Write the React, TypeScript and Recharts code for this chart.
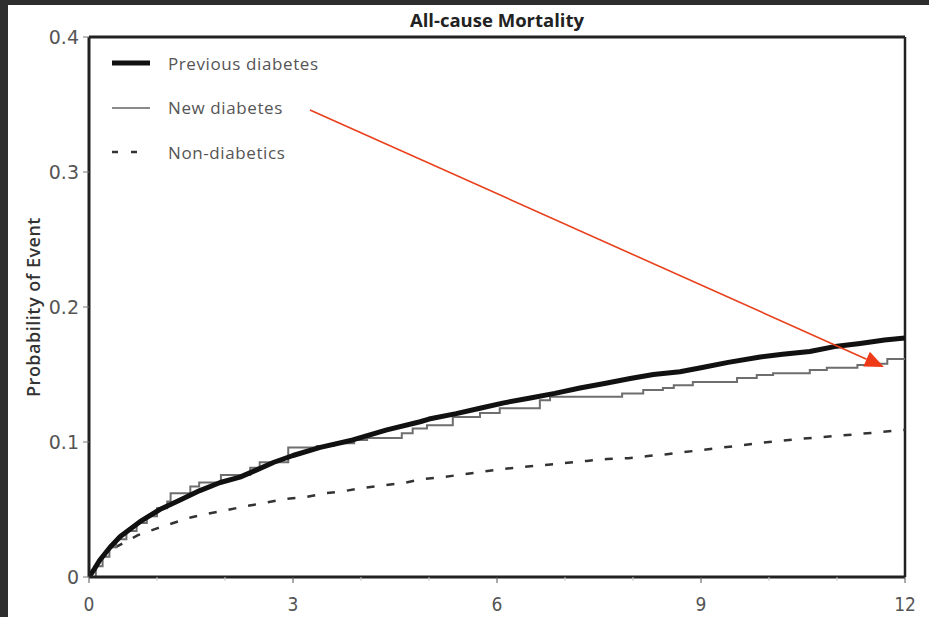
import React from 'react';
import { LineChart, Line, XAxis, YAxis, ReferenceLine, Legend } from 'recharts';

// ---------- data ----------
const prevTimes = [0, 0.08, 0.16, 0.31, 0.46, 0.75, 1.04, 1.34, 1.63, 1.93, 2.22, 2.45, 2.72, 3.0, 3.4, 3.88, 4.38, 4.87, 5.0, 5.4, 5.75, 6.1, 6.49, 6.85, 7.22, 7.6, 7.96, 8.3, 8.69, 9.0, 9.4, 9.87, 10.2, 10.6, 11.0, 11.34, 11.7, 12];
const prevValues = [0, 0.006, 0.0126, 0.022, 0.03, 0.041, 0.05, 0.057, 0.064, 0.07, 0.074, 0.079, 0.085, 0.09, 0.096, 0.1015, 0.109, 0.115, 0.117, 0.121, 0.125, 0.129, 0.1326, 0.136, 0.14, 0.1435, 0.147, 0.15, 0.152, 0.155, 0.159, 0.163, 0.165, 0.167, 0.171, 0.173, 0.1755, 0.177];

const newTimes = [0, 0.1, 0.2, 0.3, 0.4, 0.55, 0.7, 0.85, 1.0, 1.15, 1.2, 1.49, 1.62, 1.94, 2.37, 2.51, 2.93, 3.35, 3.6, 3.9, 4.09, 4.6, 4.76, 4.97, 5.35, 5.75, 6.04, 6.63, 6.78, 7.84, 8.15, 8.44, 8.6, 8.88, 9.53, 9.82, 10.06, 10.6, 10.85, 11.3, 11.53, 11.74, 12];
const newValues = [0, 0.008, 0.015, 0.022, 0.028, 0.034, 0.04, 0.045, 0.051, 0.056, 0.062, 0.067, 0.07, 0.0755, 0.081, 0.085, 0.096, 0.097, 0.099, 0.1015, 0.103, 0.1065, 0.11, 0.1125, 0.1185, 0.1215, 0.125, 0.131, 0.1335, 0.136, 0.1385, 0.14, 0.142, 0.1445, 0.1474, 0.1496, 0.151, 0.1533, 0.155, 0.157, 0.158, 0.1615, 0.1615];

const nonTimes = [0, 0.1, 0.2, 0.35, 0.5, 0.72, 1.0, 1.24, 1.51, 1.75, 2.03, 2.32, 2.59, 2.88, 3.2, 3.47, 3.76, 4.03, 4.35, 4.62, 4.91, 5.2, 5.5, 5.79, 6.09, 6.38, 6.71, 7.0, 7.32, 7.62, 7.93, 8.22, 8.5, 9.0, 9.5, 10.0, 10.5, 11.0, 11.5, 12];
const nonValues = [0, 0.008, 0.014, 0.021, 0.025, 0.031, 0.036, 0.04, 0.0443, 0.047, 0.0496, 0.0526, 0.055, 0.0578, 0.0593, 0.062, 0.0637, 0.066, 0.068, 0.0696, 0.0726, 0.074, 0.076, 0.078, 0.08, 0.0815, 0.083, 0.0845, 0.086, 0.0874, 0.088, 0.0896, 0.091, 0.094, 0.097, 0.1, 0.1025, 0.1045, 0.1067, 0.109];

const xTicks = [0, 1, 2, 3, 4, 5, 6, 7, 8, 9, 10, 11, 12];
const xLabelTicks = [0, 3, 6, 9, 12];
const yTicks = [0, 0.1, 0.2, 0.3, 0.4];
const xMax = 12;
const yMax = 0.4;

const seriesNames = ['Previous diabetes', 'New diabetes', 'Non-diabetics'];
const chartTitle = 'All-cause Mortality';
const yAxisTitle = 'Probability of Event';

// annotation arrow (data coordinates)
const arrowStart = { x: 3.25, y: 0.346 };
const arrowEnd = { x: 11.69, y: 0.1556 };

const zip = (ts: number[], vs: number[]) => ts.map((t, i) => ({ t, v: vs[i] }));
const prevData = zip(prevTimes, prevValues);
const newData = zip(newTimes, newValues);
const nonData = zip(nonTimes, nonValues);

const W = 929;
const H = 617;

const XTick = (props: any) => {
  const { x, y, payload } = props;
  const v = payload.value;
  const major = xLabelTicks.includes(v);
  return (
    <g>
      <line x1={x} x2={x} y1={y} y2={y + (major ? 6 : 4)} stroke={major ? '#555' : '#c8c8c8'} strokeWidth={1} />
      {major && (
        <text
          x={x}
          y={y + 34}
          textAnchor="middle"
          fill="#555"
          fontSize={19}
          fontFamily="'Liberation Sans Narrow', 'DejaVu Sans Condensed', sans-serif"
        >
          {v}
        </text>
      )}
    </g>
  );
};

const ArrowShape = (props: any) => {
  const { x1, y1, x2, y2 } = props;
  if ([x1, y1, x2, y2].some((n) => typeof n !== 'number' || isNaN(n))) return null;
  const ang = Math.atan2(y2 - y1, x2 - x1);
  const L = 19;
  const Wd = 8;
  const bx = x2 - L * Math.cos(ang);
  const by = y2 - L * Math.sin(ang);
  const px = -Math.sin(ang) * Wd;
  const py = Math.cos(ang) * Wd;
  return (
    <g>
      <line x1={x1} y1={y1} x2={bx} y2={by} stroke="#e8401c" strokeWidth={1.6} />
      <polygon points={`${x2},${y2} ${bx + px},${by + py} ${bx - px},${by - py}`} fill="#ee3a16" />
    </g>
  );
};

const renderLegend = () => {
  const rows = [
    { name: seriesNames[0], kind: 'thick' },
    { name: seriesNames[1], kind: 'thin' },
    { name: seriesNames[2], kind: 'dash' },
  ];
  return (
    <div>
      {rows.map((r) => (
        <div key={r.name} style={{ height: 44.5, display: 'flex', alignItems: 'center' }}>
          <svg width={40} height={10} style={{ display: 'block' }}>
            {r.kind === 'thick' && <line x1={0} x2={38} y1={5} y2={5} stroke="#111" strokeWidth={5} />}
            {r.kind === 'thin' && <line x1={0} x2={38} y1={5} y2={5} stroke="#8a8a8a" strokeWidth={1.8} />}
            {r.kind === 'dash' && (
              <g>
                <line x1={0} x2={6} y1={5} y2={5} stroke="#333" strokeWidth={2.5} />
                <line x1={19} x2={25} y1={5} y2={5} stroke="#333" strokeWidth={2.5} />
              </g>
            )}
          </svg>
          <span
            style={{
              marginLeft: 16,
              fontFamily: "'Open Sans', sans-serif",
              fontSize: 17,
              letterSpacing: 0.6,
              color: '#555',
              whiteSpace: 'nowrap',
            }}
          >
            {r.name}
          </span>
        </div>
      ))}
    </div>
  );
};

export default function App() {
  return (
    <div style={{ position: 'absolute', left: 0, top: 0, width: W, height: H, background: '#fff', overflow: 'hidden' }}>
      <div style={{ position: 'absolute', left: 0, top: 0, width: W, height: 5, background: '#2e2e2e' }} />
      <div style={{ position: 'absolute', left: 0, top: 0, width: 8, height: H, background: '#2e2e2e' }} />
      <div
        style={{
          position: 'absolute',
          left: 347,
          width: 300,
          top: 7,
          textAlign: 'center',
          fontFamily: "'Open Sans', sans-serif",
          fontWeight: 700,
          fontSize: 18.5,
          letterSpacing: 0,
          color: '#222',
        }}
      >
        {chartTitle}
      </div>
      <div style={{ position: 'absolute', left: 0, top: 0 }}>
        <LineChart width={W} height={H} margin={{ top: 37, right: 24, bottom: 0, left: 0 }}>
          <XAxis
            dataKey="t"
            type="number"
            domain={[0, xMax]}
            ticks={xTicks}
            interval={0}
            height={40}
            tickSize={0}
            tickMargin={0}
            tickLine={false}
            tick={<XTick />}
            axisLine={{ stroke: '#222', strokeWidth: 3 }}
            allowDataOverflow
          />
          <YAxis
            type="number"
            domain={[0, yMax]}
            ticks={yTicks}
            width={89}
            tickSize={6}
            tickMargin={4}
            tickLine={{ stroke: '#777', strokeWidth: 1 }}
            axisLine={{ stroke: '#222', strokeWidth: 3 }}
            tick={{ fill: '#555', fontSize: 19, fontFamily: "'DejaVu Sans', sans-serif" }}
            allowDataOverflow
            label={({ viewBox }: any) => {
              const cy = viewBox.y + viewBox.height / 2;
              return (
                <text
                  x={33}
                  y={cy}
                  transform={`rotate(-90, 33, ${cy})`}
                  textAnchor="middle"
                  dominantBaseline="central"
                  fontFamily="'Open Sans', sans-serif"
                  fontWeight={600}
                  fontSize={18}
                  letterSpacing={0.5}
                  fill="#333"
                >
                  {yAxisTitle}
                </text>
              );
            }}
          />
          <ReferenceLine y={yMax} stroke="#222" strokeWidth={3} ifOverflow="visible" />
          <ReferenceLine x={xMax} stroke="#222" strokeWidth={2.5} ifOverflow="visible" />
          <Legend
            layout="vertical"
            align="center"
            verticalAlign="middle"
            content={renderLegend}
            wrapperStyle={{ left: 112, top: 41, width: 280 }}
          />
          <Line
            data={nonData}
            dataKey="v"
            name={seriesNames[2]}
            type="linear"
            stroke="#333"
            strokeWidth={2.5}
            strokeDasharray="8 12"
            dot={false}
            isAnimationActive={false}
          />
          <Line
            data={newData}
            dataKey="v"
            name={seriesNames[1]}
            type="stepAfter"
            stroke="#6e6e6e"
            strokeWidth={2}
            dot={false}
            isAnimationActive={false}
          />
          <Line
            data={prevData}
            dataKey="v"
            name={seriesNames[0]}
            type="linear"
            stroke="#111"
            strokeWidth={5}
            strokeLinejoin="round"
            dot={false}
            isAnimationActive={false}
          />
          <ReferenceLine
            segment={[arrowStart, arrowEnd]}
            shape={<ArrowShape />}
            ifOverflow="visible"
          />
        </LineChart>
      </div>
    </div>
  );
}
